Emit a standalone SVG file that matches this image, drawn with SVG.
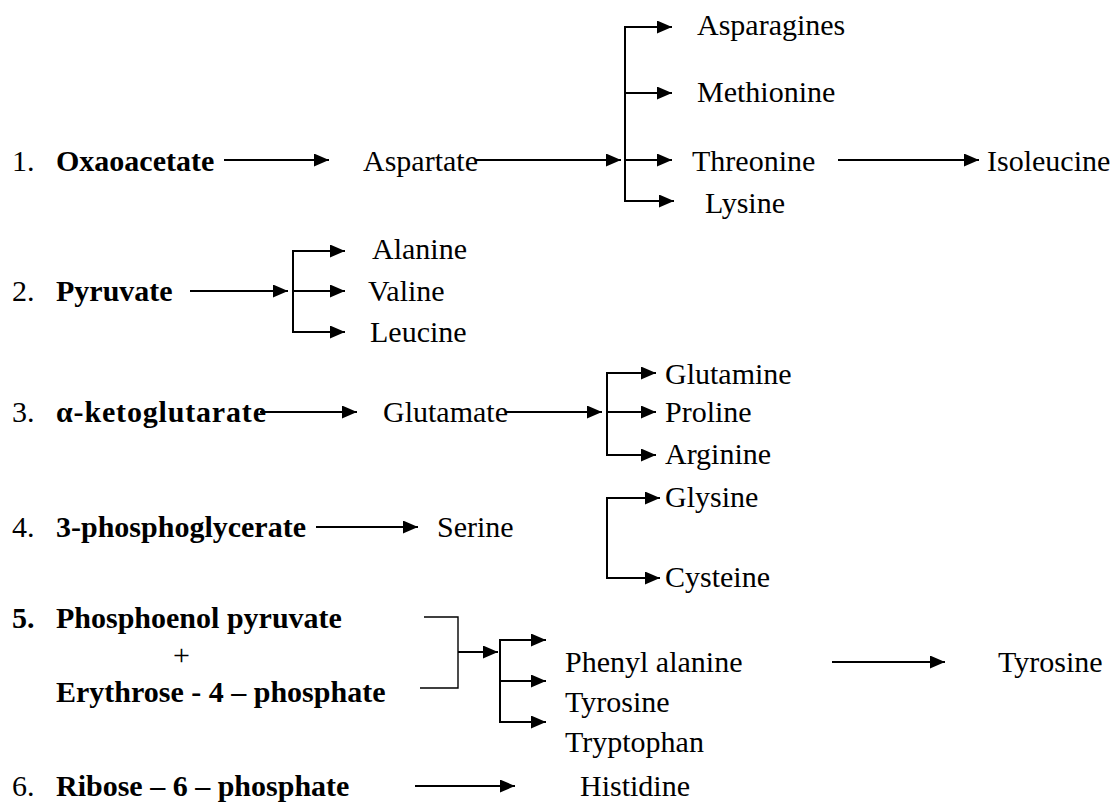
<svg xmlns="http://www.w3.org/2000/svg" width="1115" height="812" viewBox="0 0 1115 812">
<defs>
<marker id="ah" markerUnits="userSpaceOnUse" markerWidth="15" markerHeight="13" refX="15" refY="6.5" orient="auto">
<path d="M0,0 L15,6.5 L0,13 z" fill="#000"/>
</marker>
<style>
.t text{font-size:30px;fill:#000}
.b{font-weight:bold}
.ln{stroke:#000;stroke-width:2;fill:none}
.ar{stroke:#000;stroke-width:2;fill:none;marker-end:url(#ah)}
.th{stroke:#000;stroke-width:1.4;fill:none}
</style>
</defs>
<rect width="1115" height="812" fill="#fff"/>
<g id="connectors">
<line class="ar" x1="224" y1="160" x2="329" y2="160"/>
<line class="ar" x1="475" y1="160" x2="621" y2="160"/>
<line class="ln" x1="625" y1="27" x2="625" y2="202"/>
<line class="ar" x1="624" y1="27" x2="672" y2="27"/>
<line class="ar" x1="625" y1="93" x2="672" y2="93"/>
<line class="ar" x1="625" y1="160" x2="672" y2="160"/>
<line class="ar" x1="624" y1="201" x2="674" y2="201"/>
<line class="ar" x1="838" y1="160" x2="979" y2="160"/>
<line class="ar" x1="190" y1="291" x2="288" y2="291"/>
<line class="ln" x1="293" y1="250" x2="293" y2="333"/>
<line class="ar" x1="292" y1="251" x2="345" y2="251"/>
<line class="ar" x1="293" y1="291" x2="345" y2="291"/>
<line class="ar" x1="292" y1="332" x2="345" y2="332"/>
<line class="ar" x1="260" y1="412" x2="357" y2="412"/>
<line class="ar" x1="505" y1="412" x2="602" y2="412"/>
<line class="ln" x1="607" y1="372" x2="607" y2="456"/>
<line class="ar" x1="606" y1="373" x2="656" y2="373"/>
<line class="ar" x1="607" y1="412" x2="656" y2="412"/>
<line class="ar" x1="606" y1="455" x2="656" y2="455"/>
<line class="ar" x1="316" y1="527" x2="418" y2="527"/>
<line class="ln" x1="607" y1="497" x2="607" y2="579"/>
<line class="ar" x1="606" y1="498" x2="660" y2="498"/>
<line class="ar" x1="606" y1="578" x2="660" y2="578"/>
<polyline class="th" points="424,617 458,617 458,688 420,688"/>
<line class="ar" x1="458" y1="652" x2="498" y2="652"/>
<line class="ln" x1="500" y1="640" x2="500" y2="723"/>
<line class="ar" x1="499" y1="640" x2="546" y2="640"/>
<line class="ar" x1="500" y1="681" x2="546" y2="681"/>
<line class="ar" x1="499" y1="722" x2="546" y2="722"/>
<line class="ar" x1="832" y1="662" x2="945" y2="662"/>
<line class="ar" x1="415" y1="786" x2="515" y2="786"/>
</g>
<g class="t" font-family="'Liberation Serif', 'Times New Roman', Tinos, 'DejaVu Serif', serif">
<g id="row1">
<text x="12" y="171">1.</text>
<text class="b" x="56" y="171">Oxaoacetate</text>
</g>
<g id="aspartate"><text x="363" y="171">Aspartate</text></g>
<g id="asparagines"><text x="697" y="35">Asparagines</text></g>
<g id="methionine"><text x="697" y="102">Methionine</text></g>
<g id="threonine"><text x="692" y="171">Threonine</text></g>
<g id="isoleucine"><text x="987" y="171">Isoleucine</text></g>
<g id="lysine"><text x="705" y="213">Lysine</text></g>
<g id="row2">
<text x="12" y="301">2.</text>
<text class="b" x="56" y="301">Pyruvate</text>
</g>
<g id="alanine"><text x="372" y="259">Alanine</text></g>
<g id="valine"><text x="368" y="301">Valine</text></g>
<g id="leucine"><text x="370" y="342">Leucine</text></g>
<g id="row3">
<text x="12" y="422">3.</text>
<text class="b" x="56" y="422" textLength="210">α-ketoglutarate</text>
</g>
<g id="glutamate"><text x="383" y="422">Glutamate</text></g>
<g id="glutamine"><text x="665" y="384">Glutamine</text></g>
<g id="proline"><text x="665" y="422">Proline</text></g>
<g id="arginine"><text x="665" y="464">Arginine</text></g>
<g id="row4">
<text x="12" y="537">4.</text>
<text class="b" x="56" y="537">3-phosphoglycerate</text>
</g>
<g id="serine"><text x="437" y="537">Serine</text></g>
<g id="glysine"><text x="665" y="507">Glysine</text></g>
<g id="cysteine"><text x="665" y="587">Cysteine</text></g>
<g id="row5">
<text class="b" x="12" y="628">5.</text>
<text class="b" x="56" y="628">Phosphoenol pyruvate</text>
<text x="173" y="665">+</text>
<text class="b" x="56" y="702">Erythrose - 4 – phosphate</text>
</g>
<g id="phenylalanine"><text x="565" y="672">Phenyl alanine</text></g>
<g id="tyrosine2"><text x="998" y="672">Tyrosine</text></g>
<g id="tyrosine"><text x="565" y="712">Tyrosine</text></g>
<g id="tryptophan"><text x="565" y="752">Tryptophan</text></g>
<g id="row6">
<text x="12" y="796">6.</text>
<text class="b" x="56" y="796">Ribose – 6 – phosphate</text>
</g>
<g id="histidine"><text x="580" y="796">Histidine</text></g>
</g>
</svg>
